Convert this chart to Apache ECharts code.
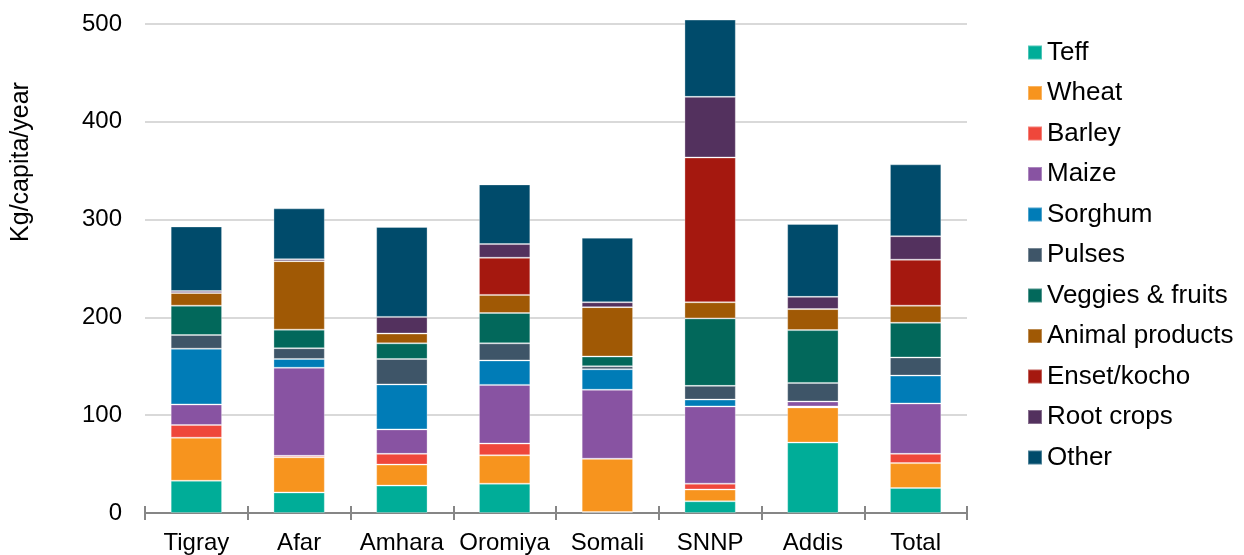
<!DOCTYPE html>
<html>
<head>
<meta charset="utf-8">
<script src="https://cdn.jsdelivr.net/npm/echarts@6/dist/echarts.min.js"></script>
<style>
  html, body { margin: 0; padding: 0; background: #ffffff; }
  #chart { width: 1244px; height: 555px; }
</style>
</head>
<body>
<div id="chart"></div>
<script>
// Regions and food groups (kg per capita per year)
const regions = ['Tigray', 'Afar', 'Amhara', 'Oromiya', 'Somali', 'SNNP', 'Addis', 'Total'];
const yTicks = [0, 100, 200, 300, 400, 500];

const teff      = [33, 21, 28, 30, 1, 12, 72, 25.5];
const wheat     = [44, 36, 21.5, 29, 54.5, 12, 36, 25.5];
const barley    = [13, 1.5, 11, 12, 0, 6, 1, 9.5];
const maize     = [21, 90, 25, 60, 70.5, 79, 5, 51.5];
const sorghum   = [57, 9, 46, 25, 21, 7, 0, 28.5];
const pulses    = [14, 11, 26, 17.5, 3, 14, 19, 18.5];
const veggies   = [30, 19, 16, 31, 10, 69, 54, 35.5];
const animal    = [13, 70, 10, 18.5, 50.5, 16.5, 21.5, 17.5];
const enset     = [0, 0, 0, 38, 0, 148, 0, 47];
const rootCrops = [2, 2, 17, 14, 5, 62, 12.5, 24];
const other     = [66, 52, 92, 61, 66, 79, 74.5, 73.5];

const groups = [
  { name: 'Teff', data: teff, color: '#00ad98' },
  { name: 'Wheat', data: wheat, color: '#f7941e' },
  { name: 'Barley', data: barley, color: '#ef473b' },
  { name: 'Maize', data: maize, color: '#8853a2' },
  { name: 'Sorghum', data: sorghum, color: '#007cb7' },
  { name: 'Pulses', data: pulses, color: '#3e5568' },
  { name: 'Veggies & fruits', data: veggies, color: '#02685b' },
  { name: 'Animal products', data: animal, color: '#a05905' },
  { name: 'Enset/kocho', data: enset, color: '#a5180f' },
  { name: 'Root crops', data: rootCrops, color: '#53315e' },
  { name: 'Other', data: other, color: '#004b6b' }
];

const FONT = '"Liberation Sans", Arial, sans-serif';
const chart = echarts.init(document.getElementById('chart'), null, { renderer: 'canvas' });

chart.setOption({
  animation: false,
  backgroundColor: '#ffffff',
  textStyle: { fontFamily: FONT },
  grid: { left: 145, right: 277, top: 24, bottom: 38, containLabel: false },
  legend: {
    orient: 'vertical',
    left: 1022,
    top: 34.5,
    icon: 'rect',
    itemWidth: 14,
    itemHeight: 14,
    itemGap: 14.5,
    textStyle: { fontFamily: FONT, fontSize: 26, color: '#000000', lineHeight: 26 },
    data: groups.map(g => g.name)
  },
  xAxis: [
    {
      type: 'category',
      data: regions,
      axisLine: { lineStyle: { color: '#868686', width: 2 } },
      axisTick: { show: true, alignWithLabel: false, length: 7, lineStyle: { color: '#868686', width: 2 } },
      axisLabel: { fontFamily: FONT, fontSize: 24, color: '#000000', margin: 18, interval: 0 },
      splitLine: { show: false }
    },
    {
      type: 'category',
      data: regions,
      position: 'bottom',
      axisLine: { show: false },
      axisTick: { show: true, inside: true, length: 7, lineStyle: { color: '#868686', width: 2 } },
      axisLabel: { show: false },
      splitLine: { show: false }
    }
  ],
  yAxis: {
    type: 'value',
    min: yTicks[0],
    max: yTicks[yTicks.length - 1],
    interval: 100,
    axisLine: { show: false },
    axisTick: { show: false },
    axisLabel: { fontFamily: FONT, fontSize: 24, color: '#000000', margin: 23 },
    splitLine: { show: true, showMinLine: false, lineStyle: { color: '#d9d9d9', width: 2 } }
  },
  graphic: [
    {
      type: 'text',
      x: 21,
      y: 162,
      rotation: Math.PI / 2,
      style: {
        text: 'Kg/capita/year',
        font: '25px ' + FONT,
        fill: '#000000',
        textAlign: 'center',
        textVerticalAlign: 'middle'
      }
    }
  ],
  series: groups.map(g => ({
    name: g.name,
    type: 'bar',
    stack: 'total',
    xAxisIndex: 0,
    barWidth: '50%',
    clip: false,
    data: g.data,
    itemStyle: { color: g.color, borderColor: 'rgba(255,255,255,0.3)', borderWidth: 1 },
    emphasis: { disabled: true }
  }))
});
</script>
</body>
</html>
